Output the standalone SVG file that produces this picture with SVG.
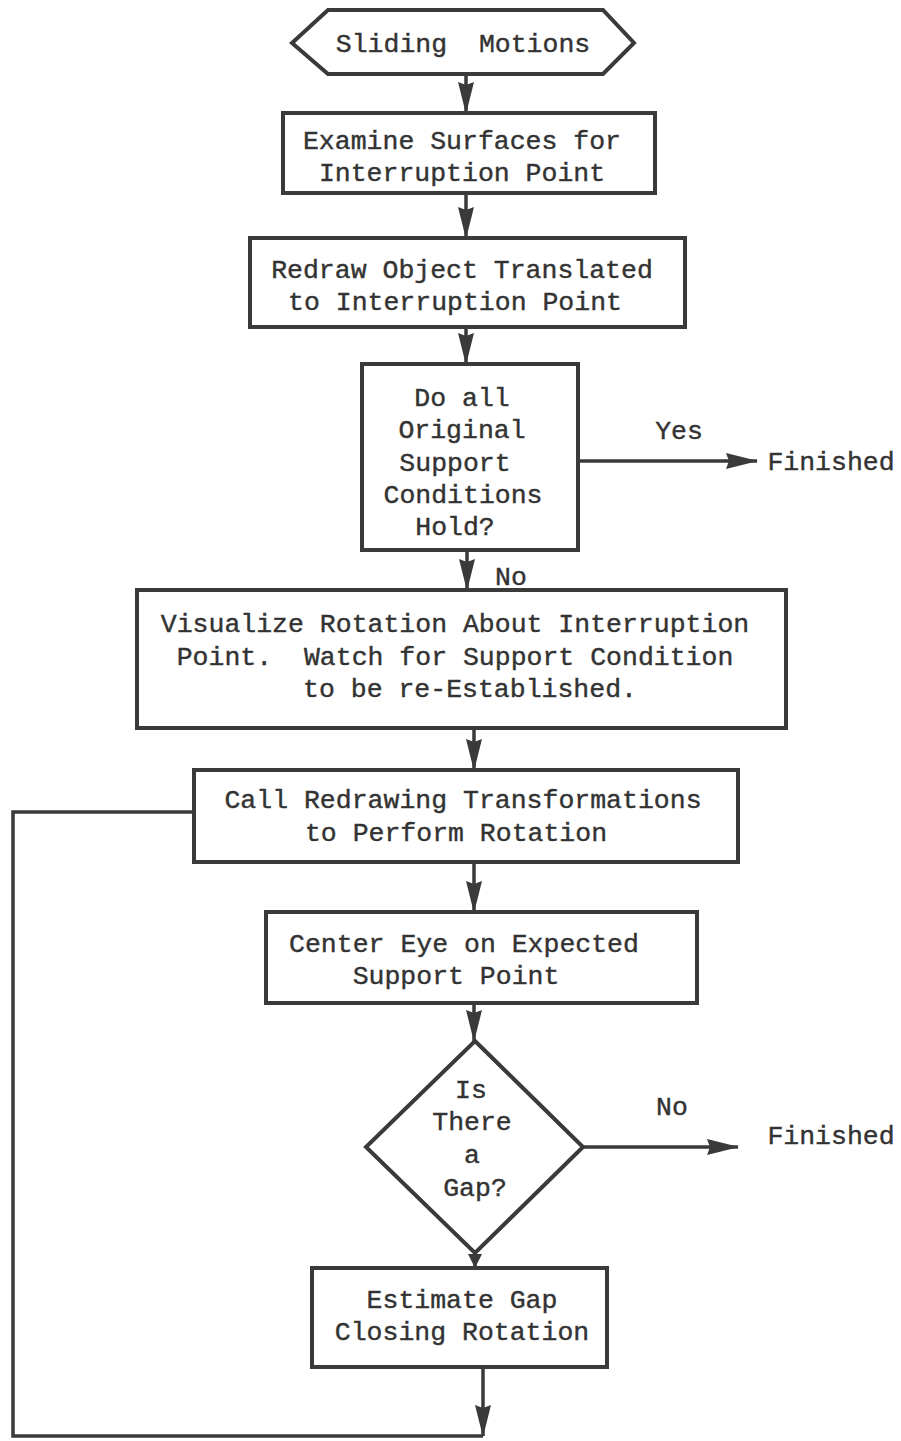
<svg xmlns="http://www.w3.org/2000/svg" width="901" height="1441" viewBox="0 0 901 1441">
<defs>
<style>
.n{fill:#fff;stroke:#3a3a3a;stroke-width:4;stroke-linejoin:miter}
.t{font-family:"Liberation Mono","DejaVu Sans Mono",monospace;font-size:26.5px;fill:#333;stroke:#333;stroke-width:0.4;text-anchor:middle}
.c{fill:none;stroke:#3a3a3a;stroke-width:3.5}
</style>
<marker id="ah" markerUnits="userSpaceOnUse" markerWidth="34" markerHeight="18" refX="31" refY="8" orient="auto" overflow="visible">
<path d="M0,0 L32,8 L0,16 L3,8 z" fill="#3a3a3a"/>
</marker>
<marker id="ahs" markerUnits="userSpaceOnUse" markerWidth="16" markerHeight="14" refX="14" refY="7" orient="auto" overflow="visible">
<path d="M0,0 L14,7 L0,14 z" fill="#3a3a3a"/>
</marker>
</defs>
<rect width="901" height="1441" fill="#fff"/>

<g id="connectors">
<line class="c" x1="466" y1="74" x2="466" y2="113" marker-end="url(#ah)"/>
<line class="c" x1="466" y1="193" x2="466" y2="238" marker-end="url(#ah)"/>
<line class="c" x1="466" y1="327" x2="466" y2="364" marker-end="url(#ah)"/>
<line class="c" x1="578" y1="461" x2="757" y2="461" marker-end="url(#ah)"/>
<line class="c" x1="467" y1="550" x2="467" y2="590" marker-end="url(#ah)"/>
<line class="c" x1="474" y1="728" x2="474" y2="770" marker-end="url(#ah)"/>
<line class="c" x1="474" y1="862" x2="474" y2="912" marker-end="url(#ah)"/>
<line class="c" x1="474" y1="1003" x2="474" y2="1041" marker-end="url(#ah)"/>
<line class="c" x1="583" y1="1147" x2="738" y2="1147" marker-end="url(#ah)"/>
<line class="c" x1="475" y1="1253" x2="475" y2="1268" marker-end="url(#ahs)"/>
<line class="c" x1="483" y1="1367" x2="483" y2="1436" marker-end="url(#ah)"/>
<polyline class="c" points="194,812 13,812 13,1436 483,1436"/>
<text class="t" x="679" y="439">Yes</text>
<text class="t" x="511" y="585">No</text>
<text class="t" x="672" y="1115">No</text>
</g>

<g id="start">
<polygon class="n" points="292,43 328,10 603,10 634,43 603,74 328,74"/>
<text class="t" x="463" y="52" xml:space="preserve">Sliding  Motions</text>
</g>

<g id="examine">
<rect class="n" x="283" y="113" width="372" height="80"/>
<text class="t" x="462" y="149">Examine Surfaces for</text>
<text class="t" x="462" y="181">Interruption Point</text>
</g>

<g id="redraw">
<rect class="n" x="250" y="238" width="435" height="89"/>
<text class="t" x="462" y="278">Redraw Object Translated</text>
<text class="t" x="455" y="310">to Interruption Point</text>
</g>

<g id="check">
<rect class="n" x="362" y="364" width="216" height="186"/>
<text class="t" x="462" y="406">Do all</text>
<text class="t" x="462" y="438">Original</text>
<text class="t" x="455" y="471">Support</text>
<text class="t" x="463" y="503">Conditions</text>
<text class="t" x="455" y="535">Hold?</text>
</g>

<g id="finished1">
<text class="t" x="831" y="470">Finished</text>
</g>

<g id="visualize">
<rect class="n" x="137" y="590" width="649" height="138"/>
<text class="t" x="455" y="632">Visualize Rotation About Interruption</text>
<text class="t" x="455" y="665" xml:space="preserve">Point.  Watch for Support Condition</text>
<text class="t" x="470" y="697">to be re-Established.</text>
</g>

<g id="call">
<rect class="n" x="194" y="770" width="544" height="92"/>
<text class="t" x="463" y="808">Call Redrawing Transformations</text>
<text class="t" x="456" y="841">to Perform Rotation</text>
</g>

<g id="center">
<rect class="n" x="266" y="912" width="431" height="91"/>
<text class="t" x="464" y="952">Center Eye on Expected</text>
<text class="t" x="456" y="984">Support Point</text>
</g>

<g id="gap">
<polygon class="n" points="475,1041 583,1147 475,1253 366,1147"/>
<text class="t" x="471" y="1098">Is</text>
<text class="t" x="472" y="1130">There</text>
<text class="t" x="472" y="1163">a</text>
<text class="t" x="475" y="1196">Gap?</text>
</g>

<g id="finished2">
<text class="t" x="831" y="1144">Finished</text>
</g>

<g id="estimate">
<rect class="n" x="312" y="1268" width="295" height="99"/>
<text class="t" x="462" y="1308">Estimate Gap</text>
<text class="t" x="462" y="1340">Closing Rotation</text>
</g>
</svg>
